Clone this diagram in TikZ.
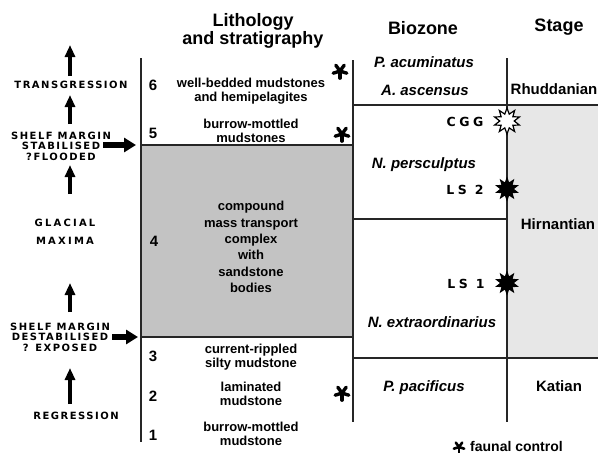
\documentclass[tikz,border=0pt]{standalone}
\usepackage{fontspec}
\setmainfont{Liberation Sans}
\newfontfamily\widefont[LetterSpace=15]{DejaVu Sans}
\newfontfamily\widerfont[LetterSpace=22]{DejaVu Sans}
\newfontfamily\bigwidefont[LetterSpace=28]{DejaVu Sans}
\usetikzlibrary{arrows.meta,shapes.geometric}
\definecolor{darkfill}{HTML}{C3C3C3}
\definecolor{lightfill}{HTML}{E7E7E7}
\tikzset{
  headtxt/.style={font=\fontsize{18}{18.5}\selectfont\bfseries, align=center, inner sep=0pt},
  lith/.style={font=\fontsize{13}{14.5}\selectfont\bfseries, align=center, inner sep=0pt},
  numtxt/.style={font=\fontsize{15}{15}\selectfont\bfseries, inner sep=0pt},
  bio/.style={font=\fontsize{15}{15}\selectfont\bfseries\itshape, inner sep=0pt},
  stg/.style={font=\fontsize{15}{15}\selectfont\bfseries, inner sep=0pt},
  captxt/.style={font=\widefont\bfseries\fontsize{10}{10.5}\selectfont, align=center, inner sep=0pt},
  spacedtxt/.style={font=\widerfont\bfseries\fontsize{10}{10.5}\selectfont, inner sep=0pt},
  zonetxt/.style={font=\bigwidefont\bfseries\fontsize{12.5}{12.5}\selectfont, inner sep=0pt},
  rule/.style={line width=1.3pt, black!85},
  uparrow/.style={line width=4pt, -{Triangle[width=10pt,length=12pt]}},
  rarrow/.style={line width=6pt, -{Triangle[width=14pt,length=12pt]}},
  outstar/.style={star, star points=10, star point ratio=1.8, minimum size=26pt, inner sep=0pt, draw=black, line width=1.2pt, fill=white},
  fullstar/.style={star, star points=10, star point ratio=1.8, minimum size=25pt, inner sep=0pt, fill=black},
  pics/ast/.style={code={
    \foreach \a in {-90,-18,54,126,198}
      \draw[line width=#1, line cap=round] (0,0) -- (\a:{2.1*#1});
  }}
}
\begin{document}
\begin{tikzpicture}[x=1pt,y=-1pt]
\useasboundingbox (0,0) rectangle (598,453);
% fills
\fill[darkfill] (141,145) rectangle (353,337);
\fill[lightfill] (507,105) rectangle (598,358);
% rules
\draw[rule] (141,58) -- (141,442);
\draw[rule] (353,60) -- (353,422);
\draw[rule] (507,58) -- (507,422);
\draw[rule] (141,145) -- (353,145);
\draw[rule] (141,337) -- (353,337);
\draw[rule] (353,105) -- (598,105);
\draw[rule] (353,219) -- (507,219);
\draw[rule] (353,358) -- (598,358);
% headings
\node[headtxt] (hlith) at (253,31) {Lithology\\and stratigraphy};
\node[headtxt] (hbio) at (423,28) {Biozone};
\node[headtxt] (hstage) at (559,27) {Stage};
% numbers
\node[numtxt] (n6) at (153,85) {6};
\node[numtxt] (n5) at (153,133) {5};
\node[numtxt] (n4) at (154,241) {4};
\node[numtxt] (n3) at (153,356) {3};
\node[numtxt] (n2) at (153,396) {2};
\node[numtxt] (n1) at (153,435) {1};
% lithology
\node[lith] (l6) at (251,91) {well-bedded mudstones\\and hemipelagites};
\node[lith] (l5) at (251,131) {burrow-mottled\\mudstones};
\node[lith, font=\fontsize{13}{16.4}\selectfont\bfseries] (l4) at (251,247) {compound\\mass transport\\complex\\with\\sandstone\\bodies};
\node[lith] (l3) at (251,357) {current-rippled\\silty mudstone};
\node[lith] (l2) at (251,394) {laminated\\mudstone};
\node[lith] (l1) at (251,434) {burrow-mottled\\mudstone};
% asterisks
\pic at (340,71) {ast=3.4pt};
\pic at (342,134) {ast=3.4pt};
\pic at (342,393) {ast=3.4pt};
\pic at (459,447) {ast=2.6pt};
\node[font=\fontsize{14}{14}\selectfont\bfseries, anchor=west, inner sep=0pt] (legend) at (470,446) {faunal control};
% biozones
\node[bio] (b1) at (424,62) {P. acuminatus};
\node[bio] (b2) at (425,90) {A. ascensus};
\node[bio] (b3) at (424,165) {N. persculptus};
\node[bio] (b4) at (432,322) {N. extraordinarius};
\node[bio] (b5) at (424,388) {P. pacificus};
\node[zonetxt] (cgg) at (465,122) {CGG};
\node[zonetxt] (ls2) at (465,190) {LS 2};
\node[zonetxt] (ls1) at (466,284) {LS 1};
\node[outstar] (s0) at (507,121) {};
\node[fullstar] (s2) at (507,189) {};
\node[fullstar] (s1) at (507,283) {};
% stages
\node[stg] (st1) at (554,89) {Rhuddanian};
\node[stg] (st2) at (558,224) {Hirnantian};
\node[stg] (st3) at (559,386) {Katian};
% left labels
\node[captxt] (trans) at (71,85) {TRANSGRESSION};
\node[captxt] (stab) at (61,146) {SHELF MARGIN\\STABILISED\\?FLOODED};
\node[spacedtxt] (glac) at (65,223) {GLACIAL};
\node[spacedtxt] (maxi) at (65,241) {MAXIMA};
\node[captxt] (dest) at (60,337) {SHELF MARGIN\\DESTABILISED\\? EXPOSED};
\node[captxt] (regr) at (76,416) {REGRESSION};
% arrows
\coordinate (u1a) at (70,76); \coordinate (u1b) at (70,45);
\coordinate (u2a) at (70,124); \coordinate (u2b) at (70,95);
\coordinate (u3a) at (70,194); \coordinate (u3b) at (70,165);
\coordinate (u4a) at (70,312); \coordinate (u4b) at (70,283);
\coordinate (u5a) at (70,404); \coordinate (u5b) at (70,368);
\draw[uparrow] (u1a) -- (u1b);
\draw[uparrow] (u2a) -- (u2b);
\draw[uparrow] (u3a) -- (u3b);
\draw[uparrow] (u4a) -- (u4b);
\draw[uparrow] (u5a) -- (u5b);
\coordinate (r1a) at (103,145); \coordinate (r1b) at (136,145);
\coordinate (r2a) at (112,337); \coordinate (r2b) at (138,337);
\draw[rarrow] (r1a) -- (r1b);
\draw[rarrow] (r2a) -- (r2b);
\end{tikzpicture}
\end{document}
